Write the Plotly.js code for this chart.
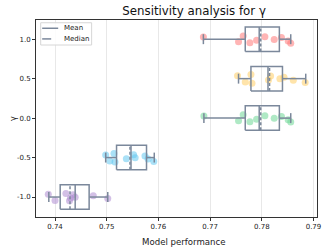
<!DOCTYPE html>
<html><head><meta charset="utf-8">
<script src="https://cdn.plot.ly/plotly-3.0.1.min.js"></script>
<style>html,body{margin:0;padding:0;background:#fff}#chart{width:329px;height:247px}</style>
</head><body><div id="chart"></div>
<script>
// gamma categories (top to bottom)
const gammas = [1.0, 0.5, 0.0, -0.5, -1.0];
const gammaLabels = ['1.0', '0.5', '0.0', '-0.5', '-1.0'];

// individual model performances per gamma
const pointsG1p0 = [0.7687, 0.7755, 0.7764, 0.7777, 0.7790, 0.7806, 0.7824, 0.7838, 0.7851, 0.7856];
const pointsG0p5 = [0.7753, 0.7768, 0.7779, 0.7781, 0.7813, 0.7817, 0.7835, 0.7843, 0.7861, 0.7884];
const pointsG0p0 = [0.7688, 0.7755, 0.7764, 0.7777, 0.7790, 0.7806, 0.7824, 0.7838, 0.7851, 0.7856];
const pointsGm0p5 = [0.7498, 0.7506, 0.7514, 0.7516, 0.7538, 0.7552, 0.7555, 0.7574, 0.7580, 0.7591];
const pointsGm1p0 = [0.7387, 0.7400, 0.7421, 0.7428, 0.7430, 0.7435, 0.7439, 0.7474, 0.7502];

// box statistics per gamma (same order as gammas)
const q1Values = [0.7768, 0.7779, 0.7768, 0.7519, 0.7410];
const q3Values = [0.7834, 0.7840, 0.7834, 0.7577, 0.7466];
const whiskerLow = [0.7687, 0.7755, 0.7688, 0.7498, 0.7388];
const whiskerHigh = [0.7856, 0.7885, 0.7856, 0.7592, 0.7502];
const meanValues = [0.7795, 0.7812, 0.7795, 0.7547, 0.7439];
const medianValues = [0.7798, 0.7815, 0.7798, 0.7545, 0.7429];

const xTickValues = [0.74, 0.75, 0.76, 0.77, 0.78, 0.79];
const xTickLabels = ['0.74', '0.75', '0.76', '0.77', '0.78', '0.79'];
const legendLabels = ['Mean', 'Median'];

const allPoints = [pointsG1p0, pointsG0p5, pointsG0p0, pointsGm0p5, pointsGm1p0];
const pointColors = ['rgba(255,120,120,0.55)', 'rgba(255,205,100,0.55)', 'rgba(110,215,150,0.55)',
                     'rgba(100,200,240,0.55)', 'rgba(175,140,210,0.55)'];

const boxColor = '#7b889b';
const halfH = 0.155, capH = 0.063;

// box outlines + whiskers
const bx = [], by = [];
gammas.forEach((g, i) => {
  const a = q1Values[i], b = q3Values[i], lo = whiskerLow[i], hi = whiskerHigh[i];
  bx.push(a, b, b, a, a, null, lo, a, null, b, hi, null, lo, lo, null, hi, hi, null);
  by.push(g - halfH, g - halfH, g + halfH, g + halfH, g - halfH, null,
          g, g, null, g, g, null, g - capH, g + capH, null, g - capH, g + capH, null);
});
const mx = [], my = [], dx = [], dy = [];
gammas.forEach((g, i) => {
  mx.push(meanValues[i], meanValues[i], null); my.push(g - halfH, g + halfH, null);
  dx.push(medianValues[i], medianValues[i], null); dy.push(g - halfH, g + halfH, null);
});

const meanStyle = {color: boxColor, width: 1.5};
const medianStyle = {color: boxColor, width: 1.5, dash: '3px,2px'};

const traces = [];
traces.push({type: 'scatter', mode: 'lines', x: bx, y: by, showlegend: false, hoverinfo: 'skip',
  line: {color: boxColor, width: 1.5}});
traces.push({type: 'scatter', mode: 'lines', x: mx, y: my, name: legendLabels[0], showlegend: false,
  hoverinfo: 'skip', line: meanStyle});
traces.push({type: 'scatter', mode: 'lines', x: dx, y: dy, name: legendLabels[1], showlegend: false,
  hoverinfo: 'skip', line: medianStyle});
gammas.forEach((g, i) => {
  traces.push({type: 'box', orientation: 'h', x: allPoints[i], y: allPoints[i].map(() => g),
    name: gammaLabels[i],
    boxpoints: 'all', jitter: 0.45, pointpos: 0, width: 0.31, showlegend: false,
    fillcolor: 'rgba(0,0,0,0)', line: {color: 'rgba(0,0,0,0)', width: 0},
    whiskerwidth: 0, hoveron: 'points',
    marker: {color: pointColors[i], size: 7, line: {width: 0}}});
});

// compact legend box (matplotlib-style), in paper coordinates
const shapes = [
  {type: 'rect', xref: 'paper', yref: 'paper', x0: 0.0167, x1: 0.198, y0: 0.873, y1: 0.986,
   line: {color: '#d6d6d6', width: 1}, fillcolor: 'rgba(255,255,255,0.85)', layer: 'above'},
  {type: 'line', xref: 'paper', yref: 'paper', x0: 0.022, x1: 0.079, y0: 0.958, y1: 0.958,
   line: meanStyle, layer: 'above'},
  {type: 'line', xref: 'paper', yref: 'paper', x0: 0.022, x1: 0.079, y0: 0.904, y1: 0.904,
   line: {color: boxColor, width: 1.5, dash: 'dash'}, layer: 'above'}
];
const annotations = [
  {xref: 'paper', yref: 'paper', x: 0.093, y: 0.958, xanchor: 'left', yanchor: 'middle',
   text: legendLabels[0], showarrow: false, font: {size: 7, color: '#222'}},
  {xref: 'paper', yref: 'paper', x: 0.093, y: 0.904, xanchor: 'left', yanchor: 'middle',
   text: legendLabels[1], showarrow: false, font: {size: 7, color: '#222'}},
  {xref: 'paper', yref: 'paper', x: 0.528, y: -0.092, xanchor: 'center', yanchor: 'top',
   text: 'Model performance', showarrow: false, font: {size: 8.6, color: '#222'}},
  {xref: 'paper', yref: 'paper', x: -0.083, y: 0.5, xanchor: 'center', yanchor: 'middle',
   text: 'γ', textangle: -90, showarrow: false, font: {size: 8.6, color: '#222'}}
];

const layout = {
  width: 329, height: 247,
  margin: {l: 36, r: 12, t: 20, b: 30},
  paper_bgcolor: '#fff', plot_bgcolor: '#fff',
  font: {family: 'DejaVu Sans, sans-serif', color: '#222', size: 7},
  title: {text: 'Sensitivity analysis for γ', font: {size: 11.8, color: '#111'},
    x: 0.59, xanchor: 'center', y: 0.955, yanchor: 'middle'},
  boxmode: 'overlay',
  showlegend: false,
  shapes: shapes,
  annotations: annotations,
  xaxis: {range: [0.73632, 0.79068], tickvals: xTickValues, ticktext: xTickLabels,
    showgrid: true, gridcolor: '#e8e8e8', gridwidth: 1, zeroline: false,
    showline: true, mirror: true, linecolor: '#333', linewidth: 1,
    ticks: 'outside', ticklen: 3, tickcolor: '#333', tickfont: {size: 7}},
  yaxis: {range: [-1.253, 1.243], tickvals: gammas, ticktext: gammaLabels,
    showgrid: false, zeroline: false,
    showline: true, mirror: true, linecolor: '#333', linewidth: 1,
    ticks: 'outside', ticklen: 3, tickcolor: '#333', tickfont: {size: 7}}
};

Plotly.newPlot('chart', traces, layout, {displayModeBar: false, staticPlot: true});
</script>
</body></html>
